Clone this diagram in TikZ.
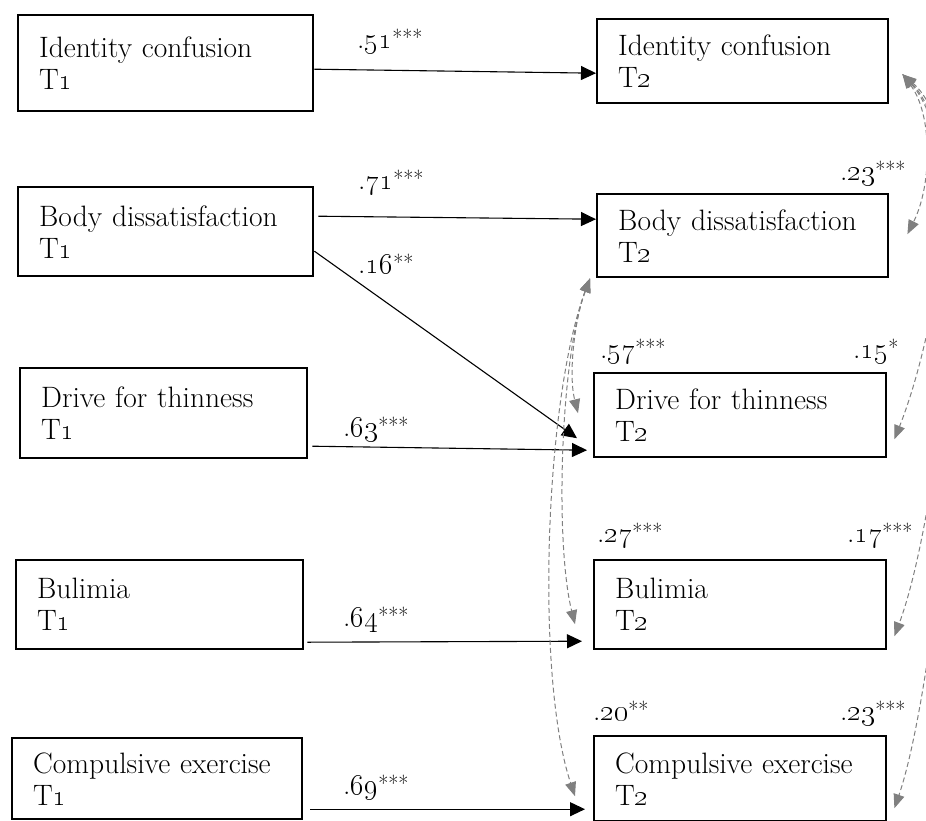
\RequirePackage{fix-cm}
\documentclass[tikz,border=0pt]{standalone}
\usepackage{tikz}
\usetikzlibrary{arrows.meta, positioning}
\definecolor{corrgrey}{RGB}{128,128,128}
\newcommand{\osn}[1]{\oldstylenums{#1}}
\newcommand{\sig}[1]{\raisebox{3pt}{\fontsize{22}{22}\selectfont #1}}

\begin{document}
\begin{tikzpicture}[
  x=1pt, y=-1pt,
  font=\fontsize{29.5}{32}\selectfont,
  box/.style 2 args={rectangle, draw, line width=2.4pt, anchor=north west,
              align=left, text width=#1, minimum height=#2,
              inner xsep=21pt, inner ysep=0pt},
  coef/.style={anchor=base west, inner sep=0pt},
  regr/.style={-{Triangle[length=15pt, width=14pt]}, line width=1.1pt},
  corr/.style={{Triangle[length=14pt, width=11pt]}-{Triangle[length=14pt, width=11pt]},
               draw=corrgrey, line width=1pt, dash pattern=on 5pt off 3pt}
]
\useasboundingbox (0,0) rectangle (926,820);

\node[box={253pt}{96pt}] (idA)  at (17,14)  {Identity confusion\\ T\osn{1}};
\node[box={253pt}{89pt}] (bodA) at (17,186) {Body dissatisfaction\\ T\osn{1}};
\node[box={245pt}{90pt}] (drvA) at (19,367) {Drive for thinness\\ T\osn{1}};
\node[box={245pt}{89pt}] (bulA) at (15,559) {Bulimia\\ T\osn{1}};
\node[box={248pt}{81pt}] (cmpA) at (11,737) {Compulsive exercise\\ T\osn{1}};

\node[box={249pt}{84pt}] (idB)  at (596,18)  {Identity confusion\\ T\osn{2}};
\node[box={249pt}{83pt}] (bodB) at (596,193) {Body dissatisfaction\\ T\osn{2}};
\node[box={250pt}{84pt}] (drvB) at (593,372) {Drive for thinness\\ T\osn{2}};
\node[box={250pt}{89pt}] (bulB) at (593,559) {Bulimia\\ T\osn{2}};
\node[box={250pt}{85pt}] (cmpB) at (593,735) {Compulsive exercise\\ T\osn{2}};

\draw[regr] ([yshift=-6pt]idA.east) -- ([yshift=-12pt]idB.west);
\draw[regr] ([xshift=4pt,yshift=15.5pt]bodA.east) -- ([yshift=16.5pt]bodB.west);
\draw[regr] ([yshift=-19.5pt]bodA.east) -- ([xshift=-16pt,yshift=-23pt]drvB.west);
\draw[regr] ([xshift=4pt,yshift=-33pt]drvA.east) -- ([xshift=-6pt,yshift=-35pt]drvB.west);
\draw[regr] ([xshift=3pt,yshift=-37.5pt]bulA.east) -- ([xshift=-11pt,yshift=-36.5pt]bulB.west);
\draw[regr] ([xshift=7pt,yshift=-30.5pt]cmpA.east) -- ([xshift=-8pt,yshift=-30.5pt]cmpB.west);

\node[coef] (c51) at (357,48)  {.\osn{51}\sig{***}};
\node[coef] (c71) at (358,189) {.\osn{71}\sig{***}};
\node[coef] (c16) at (358,273) {.\osn{16}\sig{**}};
\node[coef] (c63) at (343,436) {.\osn{63}\sig{***}};
\node[coef] (c64) at (343,626) {.\osn{64}\sig{***}};
\node[coef] (c69) at (343,794) {.\osn{69}\sig{***}};

\draw[corr] ([xshift=-6pt]bodB.south west) .. controls +(-15,40) and +(-10,-40) .. ([xshift=-15pt,yshift=2pt]drvB.west);
\draw[corr] ([xshift=-6pt]bodB.south west) .. controls +(-30,80) and +(-20,-80) .. ([xshift=-18pt,yshift=-19.5pt]bulB.west);
\draw[corr] ([xshift=-6pt]bodB.south west) .. controls +(-45,120) and +(-40,-120) .. ([xshift=-18pt,yshift=-17.5pt]cmpB.west);

\begin{scope}
\clip (0,0) rectangle (926,820);
\draw[corr] ([xshift=13pt,yshift=-13pt]idB.east) .. controls +(30,40) and +(25,-50) .. ([xshift=18pt,yshift=1.5pt]bodB.east);
\draw[corr] ([xshift=13pt,yshift=-13pt]idB.east) .. controls +(70,60) and +(40,-100) .. ([xshift=7pt,yshift=-24pt]drvB.east);
\draw[corr] ([xshift=13pt,yshift=-13pt]idB.east) .. controls +(80,80) and +(45,-120) .. ([xshift=7pt,yshift=-31.5pt]bulB.east);
\draw[corr] ([xshift=13pt,yshift=-13pt]idB.east) .. controls +(90,100) and +(45,-130) .. ([xshift=7pt,yshift=-29.5pt]cmpB.east);
\end{scope}

\node[coef] (c23a) at (840,180) {.\osn{23}\sig{***}};
\node[coef] (c57)  at (600,358) {.\osn{57}\sig{***}};
\node[coef] (c15)  at (853,358) {.\osn{15}\sig{*}};
\node[coef] (c27)  at (597,542) {.\osn{27}\sig{***}};
\node[coef] (c17)  at (847,542) {.\osn{17}\sig{***}};
\node[coef] (c20)  at (593,720) {.\osn{20}\sig{**}};
\node[coef] (c23b) at (840,720) {.\osn{23}\sig{***}};

\end{tikzpicture}
\end{document}
